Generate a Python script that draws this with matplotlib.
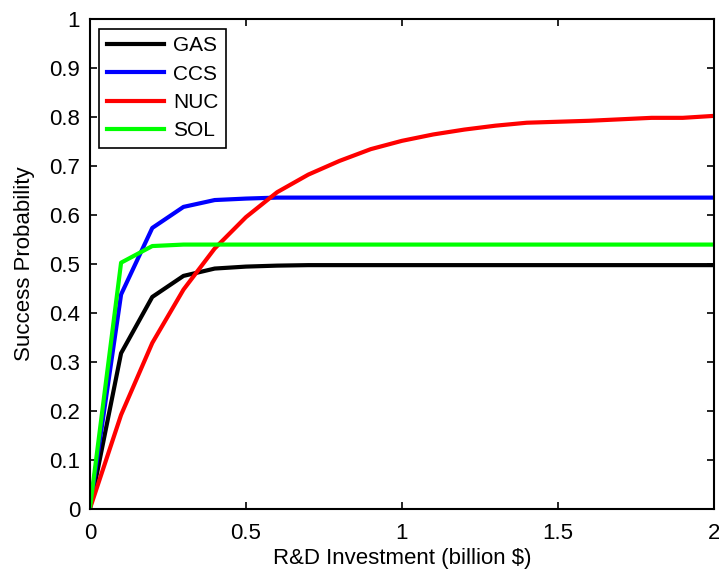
import matplotlib
matplotlib.use("Agg")
import matplotlib.pyplot as plt
import numpy as np

plt.rcParams['font.family'] = ['Liberation Sans', 'DejaVu Sans']

# R&D investment (billion $)
invest = [0.0, 0.1, 0.2, 0.3, 0.4, 0.5, 0.6, 0.7, 0.8, 0.9, 1.0,
          1.1, 1.2, 1.3, 1.4, 1.5, 1.6, 1.7, 1.8, 1.9, 2.0]

gas = [0.0, 0.318, 0.433, 0.476, 0.491, 0.495, 0.497, 0.498, 0.498, 0.498, 0.498,
       0.498, 0.498, 0.498, 0.498, 0.498, 0.498, 0.498, 0.498, 0.498, 0.498]
ccs = [0.0, 0.438, 0.574, 0.617, 0.631, 0.634, 0.636, 0.636, 0.636, 0.636, 0.636,
       0.636, 0.636, 0.636, 0.636, 0.636, 0.636, 0.636, 0.636, 0.636, 0.636]
nuc = [0.0, 0.192, 0.339, 0.448, 0.532, 0.596, 0.647, 0.683, 0.711, 0.735, 0.752,
       0.765, 0.775, 0.783, 0.789, 0.791, 0.793, 0.796, 0.799, 0.799, 0.803]
sol = [0.0, 0.503, 0.537, 0.540, 0.540, 0.540, 0.540, 0.540, 0.540, 0.540, 0.540,
       0.540, 0.540, 0.540, 0.540, 0.540, 0.540, 0.540, 0.540, 0.540, 0.540]

fig = plt.figure(figsize=(7.19, 5.73), dpi=100)
ax = fig.add_axes([0.125, 0.112, 0.868, 0.854])

lw = 3
ax.plot(invest, gas, color='black', lw=lw, label='GAS')
ax.plot(invest, ccs, color='#0000ff', lw=lw, label='CCS')
ax.plot(invest, nuc, color='#ff0000', lw=lw, label='NUC')
ax.plot(invest, sol, color='#00ff00', lw=lw, label='SOL')

ax.set_xlim(0, 2)
ax.set_ylim(0, 1)
ax.set_xticks([0, 0.5, 1, 1.5, 2])
ax.set_xticklabels(['0', '0.5', '1', '1.5', '2'])
ax.set_yticks(np.arange(0, 1.01, 0.1))
ax.set_yticklabels(['0', '0.1', '0.2', '0.3', '0.4', '0.5', '0.6', '0.7', '0.8', '0.9', '1'])
ax.tick_params(direction='in', top=True, right=True, labelsize=16, length=5, width=1.2)
ax.tick_params(axis='x', pad=10)
ax.tick_params(axis='y', pad=7)
for s in ax.spines.values():
    s.set_linewidth(1.5)

ax.set_xlabel('R&D Investment (billion $)', fontsize=16, labelpad=3)
ax.set_ylabel('Success Probability', fontsize=16, labelpad=10)

leg = ax.legend(loc='upper left', fontsize=15, fancybox=False, edgecolor='black',
                handlelength=2.75, handletextpad=0.45, borderpad=0.35,
                borderaxespad=0.45, labelspacing=0.45, framealpha=1)
leg.get_frame().set_linewidth(1.2)

fig.savefig('out.png', dpi=100)
